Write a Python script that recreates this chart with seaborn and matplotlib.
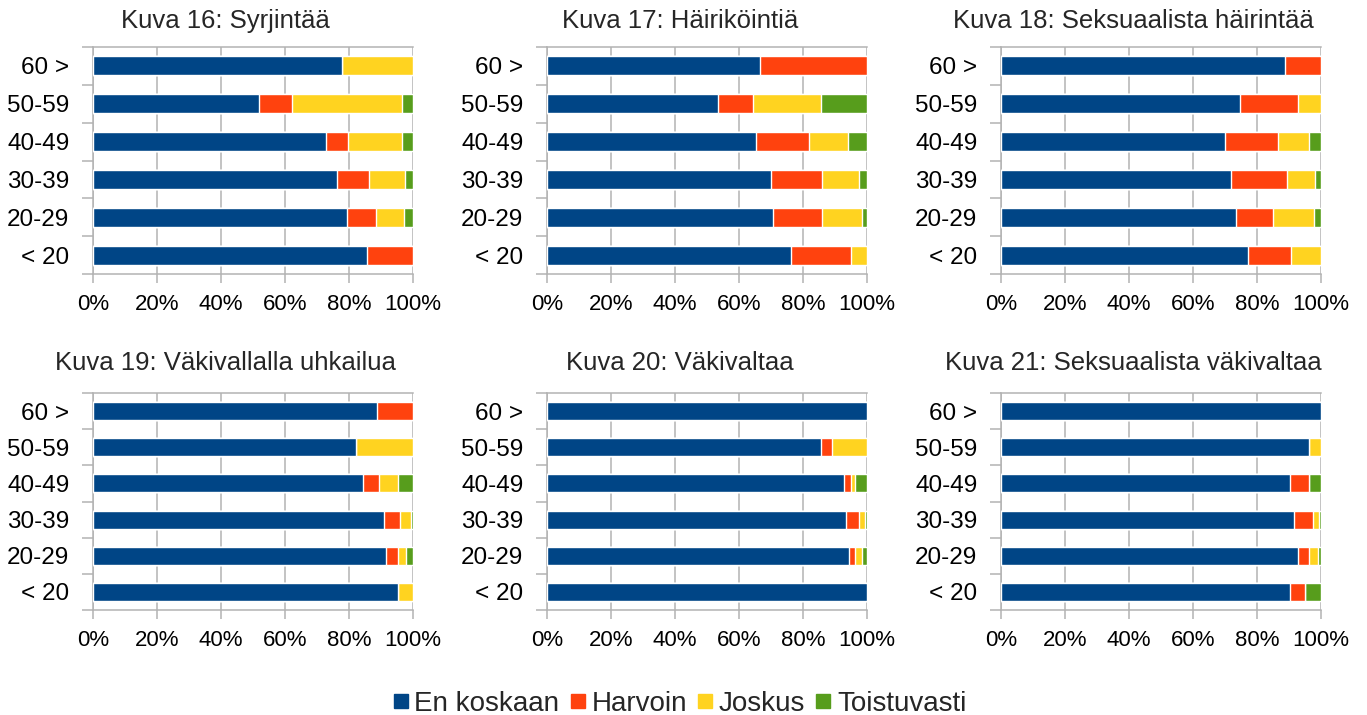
import matplotlib
matplotlib.use("Agg")
import matplotlib.pyplot as plt
from matplotlib.lines import Line2D
from matplotlib.ticker import FixedLocator, PercentFormatter
import seaborn as sns
import pandas as pd
import numpy as np

sns.set_theme(style="white")
plt.rcParams['font.family'] = ['Liberation Sans', 'DejaVu Sans']

# ---------------- data ----------------
categories = ["60 >", "50-59", "40-49", "30-39", "20-29", "< 20"]
series_names = ["En koskaan", "Harvoin", "Joskus", "Toistuvasti"]
colors = ["#004586", "#ff420e", "#ffd320", "#579d1c"]

titles = [
    "Kuva 16: Syrjintää",
    "Kuva 17: Häiriköintiä",
    "Kuva 18: Seksuaalista häirintää",
    "Kuva 19: Väkivallalla uhkailua",
    "Kuva 20: Väkivaltaa",
    "Kuva 21: Seksuaalista väkivaltaa",
]

# each row: [En koskaan, Harvoin, Joskus, Toistuvasti] in %, rows in category order
kuva16 = [[77.8, 0.0, 22.2, 0.0],
          [51.9, 10.3, 34.4, 3.4],
          [72.8, 6.9, 16.9, 3.4],
          [76.2, 10.0, 11.3, 2.5],
          [79.4, 9.0, 8.8, 2.8],
          [85.6, 14.4, 0.0, 0.0]]
kuva17 = [[66.6, 33.4, 0.0, 0.0],
          [53.4, 11.0, 21.2, 14.4],
          [65.3, 16.6, 12.2, 5.9],
          [70.0, 16.0, 11.5, 2.5],
          [70.6, 15.4, 12.4, 1.6],
          [76.2, 18.8, 5.0, 0.0]]
kuva18 = [[88.8, 11.2, 0.0, 0.0],
          [74.7, 18.1, 7.2, 0.0],
          [70.0, 16.6, 9.7, 3.7],
          [71.9, 17.5, 8.7, 1.9],
          [73.4, 11.6, 12.8, 2.2],
          [77.2, 13.4, 9.4, 0.0]]
kuva19 = [[88.8, 11.2, 0.0, 0.0],
          [82.2, 0.0, 17.8, 0.0],
          [84.4, 5.0, 5.9, 4.7],
          [90.9, 5.0, 3.5, 0.6],
          [91.6, 3.7, 2.5, 2.2],
          [95.3, 0.0, 4.7, 0.0]]
kuva20 = [[100.0, 0.0, 0.0, 0.0],
          [85.6, 3.5, 10.9, 0.0],
          [92.8, 2.2, 1.3, 3.7],
          [93.4, 4.1, 1.9, 0.6],
          [94.4, 1.9, 2.1, 1.6],
          [100.0, 0.0, 0.0, 0.0]]
kuva21 = [[100.0, 0.0, 0.0, 0.0],
          [96.2, 0.0, 3.8, 0.0],
          [90.3, 5.9, 0.0, 3.8],
          [91.6, 5.9, 1.9, 0.6],
          [92.8, 3.4, 2.9, 0.9],
          [90.3, 4.7, 0.0, 5.0]]

panels = [kuva16, kuva17, kuva18, kuva19, kuva20, kuva21]
xticks = [0, 20, 40, 60, 80, 100]

# ---------------- figure ----------------
W, H = 1367, 715
fig = plt.figure(figsize=(W / 100, H / 100), dpi=100)

col_left = [93, 547, 1001]
ax_w = 320
rows = [(47, 274), (393, 610)]
grid_c = "#b3b3b3"
FS_X, FS_Y, FS_T, FS_L = 16, 17.5, 18.5, 20

for i, (title, data) in enumerate(zip(titles, panels)):
    r, c = divmod(i, 3)
    top, bot = rows[r]
    ax = fig.add_axes([col_left[c] / W, 1 - bot / H, ax_w / W, (bot - top) / H])
    df = pd.DataFrame(data, columns=series_names)
    cum = df[series_names].cumsum(axis=1)
    # draw from the largest cumulative value down so segments stack
    for k in range(len(series_names) - 1, -1, -1):
        tmp = pd.DataFrame({"cat": categories, "val": cum[series_names[k]].values})
        sns.barplot(data=tmp, x="val", y="cat", orient="h", color=colors[k],
                    width=0.5, saturation=1, ax=ax, order=categories, zorder=3)
    ax.set_xlim(0, 100)
    ax.set_ylim(len(categories) - 0.5, -0.5)
    ax.set_xlabel("")
    ax.set_ylabel("")
    ax.xaxis.set_major_locator(FixedLocator(xticks))
    ax.xaxis.set_major_formatter(PercentFormatter(decimals=0))
    ax.grid(axis="x", color=grid_c, lw=1.1, zorder=0)
    ax.set_axisbelow(True)
    for s in ["top", "bottom", "left"]:
        ax.spines[s].set_visible(True)
        ax.spines[s].set_color(grid_c)
        ax.spines[s].set_linewidth(1.1)
    ax.spines["right"].set_visible(False)
    ax.tick_params(axis="x", which="major", length=6.5, width=1.1, color=grid_c,
                   direction="out", labelsize=FS_X, pad=8, labelcolor="#000000", bottom=True)
    ax.tick_params(axis="y", which="major", length=0, labelsize=FS_Y, pad=17,
                   labelcolor="#000000", left=True)
    ax.yaxis.set_minor_locator(FixedLocator(np.arange(-0.5, len(categories), 1.0)))
    ax.tick_params(axis="y", which="minor", length=8, width=1.1, color=grid_c,
                   direction="out", left=True)
    ax.text(0.415, 1 + (26 if r == 0 else 30) / (bot - top), title,
            transform=ax.transAxes, ha="center", va="center", fontsize=FS_T)

handles = [Line2D([0], [0], marker="s", linestyle="none", markersize=9.5,
                  markerfacecolor=col, markeredgecolor=col) for col in colors]
fig.legend(handles, series_names, loc="center", bbox_to_anchor=(0.497, 0.016),
           ncol=4, frameon=False, fontsize=FS_L, handlelength=0.6,
           handletextpad=0.2, columnspacing=0.35, borderaxespad=0)

fig.savefig("out.png", dpi=100)
